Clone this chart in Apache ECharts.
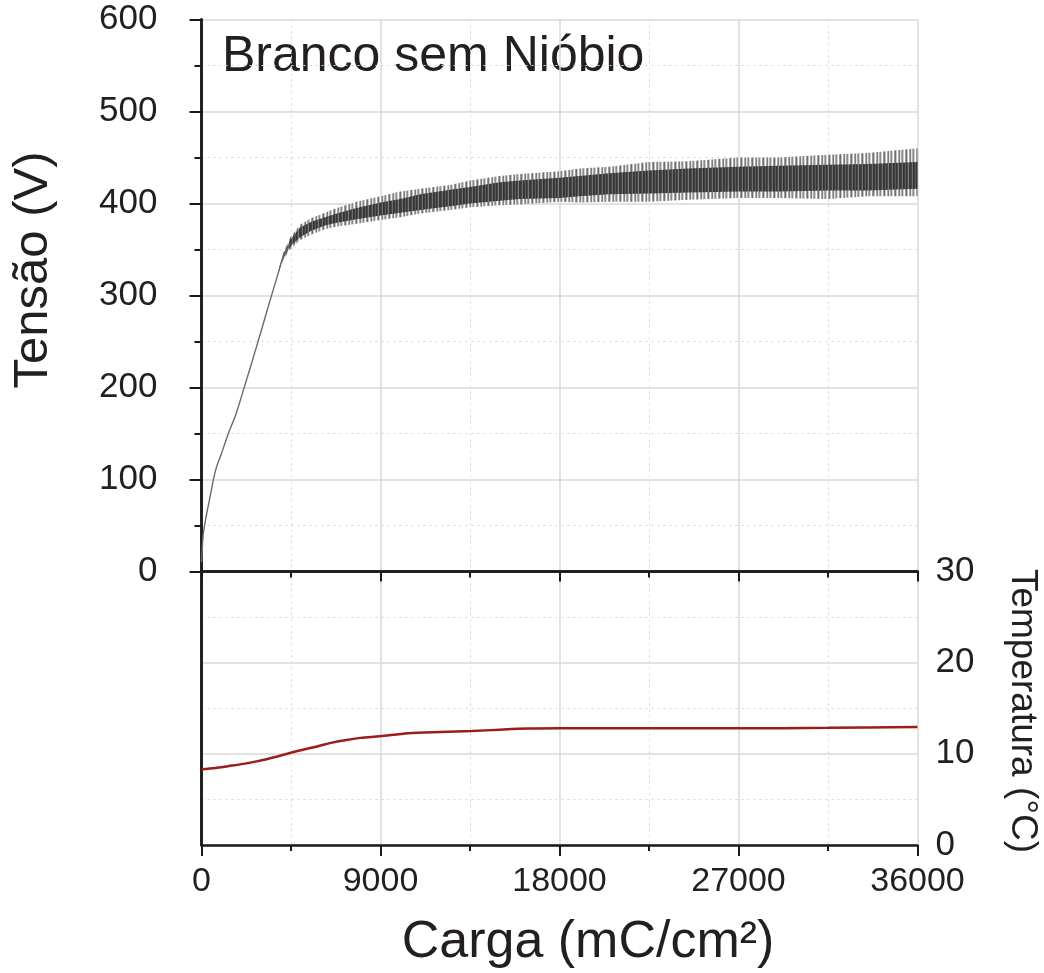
<!DOCTYPE html>
<html>
<head>
<meta charset="utf-8">
<script src="https://cdn.jsdelivr.net/npm/echarts@6/dist/echarts.min.js"></script>
<style>
html,body{margin:0;padding:0;background:#fff;}
#chart{width:1044px;height:973px;}
</style>
</head>
<body>
<div id="chart"></div>
<script>
// ---- data ----
const chartTitle = 'Branco sem Nióbio';
const xTitle = 'Carga (mC/cm²)';
const yTitle = 'Tensão (V)';
const y2Title = 'Temperatura (°C)';

// voltage: charge samples (mC/cm²)
const charge = [0, 90, 260, 430, 590, 760, 1000, 1350, 1700, 1950, 2400, 2900, 3450, 3800,
  4100, 4450, 4950, 5500, 6200, 6800, 7800, 9000, 10000, 11000, 12500, 13500, 15000, 16000,
  18000, 19000, 20500, 22500, 24500, 27000, 29000, 31500, 33500, 36000];
// envelope of the oscillating voltage signal (V)
const voltageOuterLow = [10, 41, 63, 81, 99, 114, 128, 150, 169, 186, 218, 254, 295, 320,
  338, 350, 360, 366, 372, 375, 378, 382, 385, 389, 393, 396, 398, 399,
  402, 401, 402, 402, 404, 406, 406, 405, 408, 408];
const voltageCoreLow = [10, 41, 63, 81, 99, 114, 128, 150, 169, 186, 218, 254, 295, 320,
  340, 353, 363, 370, 376, 379, 383, 387, 390, 393, 397, 400, 403, 405,
  406, 408, 410, 411, 412, 413, 413, 414, 414, 416];
const voltageCoreHigh = [10, 41, 63, 81, 99, 114, 128, 150, 169, 186, 218, 254, 295, 320,
  344, 360, 374, 380, 385, 389, 395, 401, 405, 410, 415, 418, 423, 425,
  428, 430, 433, 436, 438, 440, 441, 442, 443, 445];
const voltageOuterHigh = [10, 41, 63, 81, 99, 114, 128, 150, 169, 186, 218, 254, 295, 320,
  346, 363, 377, 384, 390, 395, 402, 408, 413, 416, 420, 425, 430, 432,
  435, 438, 440, 445, 446, 450, 450, 453, 455, 460];

// temperature (°C)
const tempCharge = [0, 700, 1330, 2100, 2850, 3700, 4530, 5200, 5870, 6500, 7210, 8000, 8970,
  10390, 12000, 13580, 15000, 16420, 18000, 22000, 27000, 31500, 36000];
const temperature = [8.3, 8.45, 8.65, 8.9, 9.2, 9.65, 10.15, 10.5, 10.84, 11.2, 11.5, 11.75, 11.93,
  12.26, 12.4, 12.5, 12.65, 12.77, 12.8, 12.8, 12.8, 12.85, 12.95];

const xTicks = [0, 9000, 18000, 27000, 36000];
const vTicks = [0, 100, 200, 300, 400, 500, 600];
const tTicks = [0, 10, 20, 30];

// ---- styling helpers (hatch texture of the noisy band) ----
function stripePattern(colors) {
  const c = document.createElement('canvas');
  c.width = colors.length; c.height = 4;
  const ctx = c.getContext('2d');
  colors.forEach(function (col, i) { ctx.fillStyle = col; ctx.fillRect(i, 0, 1, 4); });
  return {image: c, repeat: 'repeat'};
}
const outerFill = stripePattern(['#8a8a8a', '#d0d0d0', '#ffffff', '#9a9a9a', '#6f6f6f', '#c4c4c4', '#ffffff', '#a8a8a8', '#7c7c7c', '#e6e6e6', '#b0b0b0']);
const coreFill = stripePattern(['#3a3a3a', '#454545', '#6e6e6e', '#333333', '#3e3e3e', '#5a5a5a', '#363636', '#4a4a4a', '#7a7a7a', '#3a3a3a']);

const FONT = '"Liberation Sans", Arial, sans-serif';
const TXT = '#231f20';
const AX = {lineStyle: {color: '#1a1a1a', width: 2.5}};
const GRIDMAJ = {show: true, lineStyle: {color: '#d8d8d8', width: 1.5}};
const GRIDMIN = {show: true, lineStyle: {color: '#d4d4d4', width: 1, type: [2, 4]}};

function bandSeries(lowArr, highArr, fill) {
  return {
    type: 'custom', xAxisIndex: 0, yAxisIndex: 0, silent: true,
    data: [[0]],
    clip: true,
    renderItem: function (params, api) {
      const pts = [];
      for (let i = 0; i < charge.length; i++) pts.push(api.coord([charge[i], highArr[i]]));
      for (let i = charge.length - 1; i >= 0; i--) pts.push(api.coord([charge[i], lowArr[i]]));
      return {type: 'polygon', shape: {points: pts}, style: {fill: fill, lineWidth: 0}};
    }
  };
}

const chart = echarts.init(document.getElementById('chart'), null, {renderer: 'canvas'});
const option = {
  animation: false,
  backgroundColor: '#fff',
  textStyle: {fontFamily: FONT, color: TXT},
  grid: [
    {left: 201.5, right: 126.5, top: 19.5, height: 552, containLabel: false},
    {left: 201.5, right: 126.5, top: 571.5, height: 273.5, containLabel: false}
  ],
  xAxis: [
    {gridIndex: 0, type: 'value', min: xTicks[0], max: xTicks[xTicks.length - 1], interval: 9000,
      position: 'bottom', axisLine: AX,
      axisTick: {show: true, inside: false, length: 10, lineStyle: {color: '#1a1a1a', width: 2}},
      minorTick: {show: true, splitNumber: 2, length: 6, lineStyle: {color: '#1a1a1a', width: 2}},
      axisLabel: {show: false}, splitLine: GRIDMAJ, minorSplitLine: GRIDMIN},
    {gridIndex: 0, type: 'value', min: 0, max: 36000, position: 'top', axisLine: AX,
      axisTick: {show: false}, axisLabel: {show: false}, splitLine: {show: false}},
    {gridIndex: 1, type: 'value', min: xTicks[0], max: xTicks[xTicks.length - 1], interval: 9000,
      position: 'bottom', axisLine: AX,
      axisTick: {show: true, inside: false, length: 11, lineStyle: {color: '#1a1a1a', width: 2}},
      minorTick: {show: true, splitNumber: 2, length: 6, lineStyle: {color: '#1a1a1a', width: 2}},
      axisLabel: {show: true, fontSize: 34, color: TXT, fontFamily: FONT, margin: 20,
        showMinLabel: true, showMaxLabel: true,
        formatter: function (v) { return xTicks.indexOf(v) >= 0 ? String(v) : ''; }},
      splitLine: GRIDMAJ, minorSplitLine: GRIDMIN}
  ],
  yAxis: [
    {gridIndex: 0, type: 'value', min: vTicks[0], max: vTicks[vTicks.length - 1], interval: 100,
      position: 'left', axisLine: AX,
      axisTick: {show: true, inside: false, length: 12, lineStyle: {color: '#1a1a1a', width: 2}},
      minorTick: {show: true, splitNumber: 2, length: 7, lineStyle: {color: '#1a1a1a', width: 2}},
      axisLabel: {show: true, fontSize: 35, color: TXT, fontFamily: FONT, margin: 44,
        formatter: function (v) { return vTicks.indexOf(v) >= 0 ? String(v) : ''; }},
      splitLine: GRIDMAJ, minorSplitLine: GRIDMIN},
    {gridIndex: 0, type: 'value', min: 0, max: 600, position: 'right', axisLine: AX,
      axisTick: {show: false}, axisLabel: {show: false}, splitLine: {show: false}},
    {gridIndex: 1, type: 'value', min: tTicks[0], max: tTicks[tTicks.length - 1], interval: 10,
      position: 'right', axisLine: AX,
      axisTick: {show: false}, minorTick: {show: false, splitNumber: 2},
      axisLabel: {show: true, fontSize: 35, color: TXT, fontFamily: FONT, margin: 18,
        formatter: function (v) { return tTicks.indexOf(v) >= 0 ? String(v) : ''; }},
      splitLine: GRIDMAJ, minorSplitLine: GRIDMIN},
    {gridIndex: 1, type: 'value', min: 0, max: 30, position: 'left', axisLine: AX,
      axisTick: {show: false}, axisLabel: {show: false}, splitLine: {show: false}}
  ],
  series: [
    bandSeries(voltageOuterLow, voltageOuterHigh, outerFill),
    bandSeries(voltageCoreLow, voltageCoreHigh, coreFill),
    {type: 'line', xAxisIndex: 0, yAxisIndex: 0, showSymbol: false, silent: true, smooth: 0.2,
      data: charge.slice(0, 16).map(function (c, i) { return [c, (voltageCoreLow[i] + voltageCoreHigh[i]) / 2]; }),
      lineStyle: {color: '#6a6a6a', width: 1.4}},
    {type: 'line', xAxisIndex: 2, yAxisIndex: 2, showSymbol: false, smooth: 0.3, silent: true,
      data: tempCharge.map(function (c, i) { return [c, temperature[i]]; }),
      lineStyle: {color: '#9a1c1c', width: 2.5}}
  ],
  graphic: [
    {type: 'text', x: 222, y: 57, silent: true,
      style: {text: chartTitle, font: '50px ' + FONT, fill: TXT, textAlign: 'left', textVerticalAlign: 'middle'}},
    {type: 'text', x: 33, y: 270, rotation: Math.PI / 2, silent: true,
      style: {text: yTitle, font: '49px ' + FONT, fill: TXT, textAlign: 'center', textVerticalAlign: 'middle'}},
    {type: 'text', x: 588, y: 943, silent: true,
      style: {text: xTitle, font: '52px ' + FONT, fill: TXT, textAlign: 'center', textVerticalAlign: 'middle'}},
    {type: 'text', x: 1022, y: 711, rotation: -Math.PI / 2, silent: true,
      style: {text: y2Title, font: '37px ' + FONT, fill: TXT, textAlign: 'center', textVerticalAlign: 'middle'}}
  ]
};
chart.setOption(option);
</script>
</body>
</html>
